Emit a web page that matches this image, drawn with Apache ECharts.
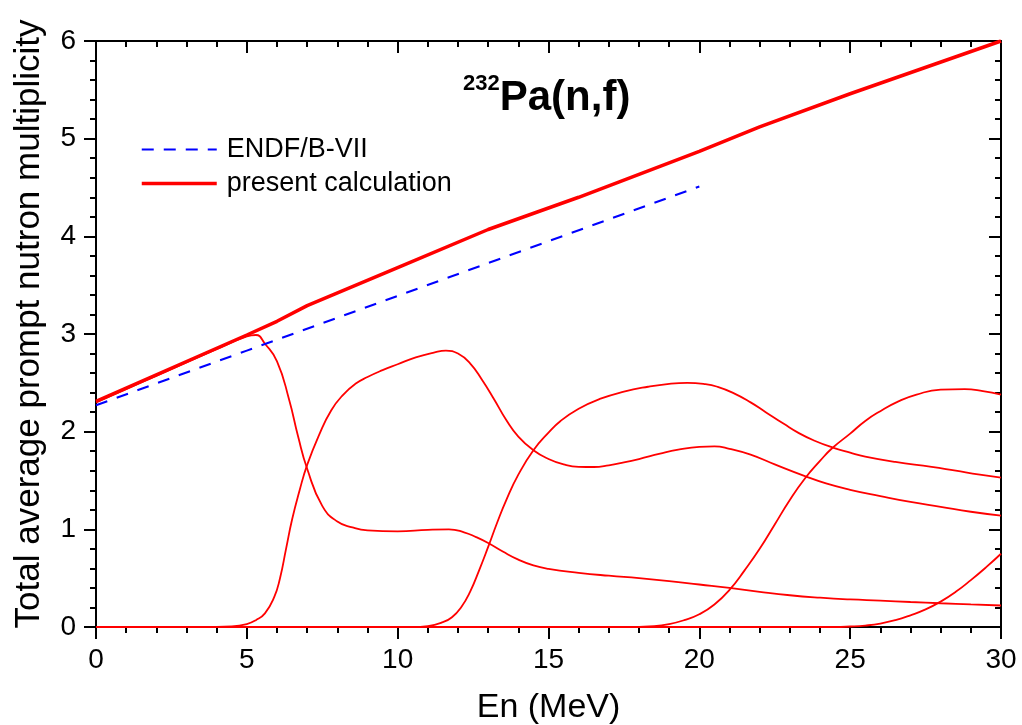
<!DOCTYPE html>
<html>
<head>
<meta charset="utf-8">
<script src="https://cdn.jsdelivr.net/npm/echarts@6/dist/echarts.min.js"></script>
<style>html,body{margin:0;padding:0;background:#fff}#c{width:1022px;height:725px}</style>
</head>
<body>
<div id="c"></div>
<script>
// ---- data ----
var xTicks = [0, 5, 10, 15, 20, 25, 30];
var yTicks = [0, 1, 2, 3, 4, 5, 6];
var endf = [[0,2.27],[5,2.83],[10,3.39],[15,3.95],[20,4.51]];
var total = [[0,2.31],[5,2.99],[6,3.13],[7,3.29],[10,3.68],[13,4.07],[16,4.40],[20,4.87],[22,5.12],[25,5.46],[30,6.0]];
var chance1 = [[0,2.30],[1,2.436],[2,2.572],[3,2.708],[4,2.844],[5,2.975],[5.3,2.99],[5.6,2.9],[6,2.72],[6.4,2.33],[6.7,1.95],[7,1.62],[7.5,1.24],[8,1.08],[8.5,1.02],[9,0.99],[10,0.98],[11,0.995],[11.7,1.0],[12.2,0.97],[12.6,0.92],[13,0.86],[13.5,0.77],[14,0.69],[14.5,0.63],[15,0.595],[16,0.555],[17,0.525],[18,0.5],[19,0.47],[20,0.435],[21,0.4],[22,0.36],[23,0.325],[24,0.3],[25,0.282],[26,0.27],[27,0.256],[28,0.243],[29,0.231],[30,0.22]];
var chance2 = [[0,0],[2,0],[4,0],[4.5,0.005],[5,0.03],[5.3,0.07],[5.6,0.14],[5.9,0.3],[6.1,0.5],[6.3,0.8],[6.5,1.1],[6.75,1.4],[7,1.66],[7.4,1.97],[7.8,2.22],[8.2,2.38],[8.6,2.49],[9,2.56],[9.5,2.63],[10,2.69],[10.6,2.76],[11.2,2.81],[11.6,2.83],[12,2.8],[12.4,2.7],[12.8,2.53],[13.2,2.33],[13.6,2.12],[14,1.95],[14.5,1.81],[15,1.72],[15.5,1.665],[16,1.64],[16.5,1.638],[17,1.655],[17.5,1.685],[18,1.72],[18.7,1.775],[19.3,1.815],[20,1.845],[20.5,1.85],[21,1.825],[21.7,1.765],[22.5,1.665],[23.5,1.545],[24.2,1.47],[25,1.405],[26,1.34],[27,1.28],[28,1.23],[29,1.18],[30,1.14]];
var chance3 = [[0,0],[5,0],[10,0],[10.5,0],[11,0.01],[11.5,0.05],[11.8,0.1],[12.1,0.2],[12.4,0.36],[12.7,0.58],[13,0.82],[13.3,1.07],[13.6,1.3],[14,1.56],[14.5,1.81],[15,1.99],[15.4,2.11],[16,2.235],[16.7,2.335],[17.5,2.41],[18.3,2.46],[19,2.49],[19.6,2.5],[20.2,2.487],[20.6,2.46],[21.1,2.4],[21.7,2.3],[22.2,2.2],[22.8,2.08],[23.3,1.985],[23.8,1.91],[24.4,1.84],[25,1.785],[25.5,1.745],[26.5,1.69],[27.7,1.64],[28.5,1.6],[29.3,1.56],[30,1.53]];
var chance4 = [[0,0],[8,0],[16,0],[17.5,0],[18.5,0.01],[19,0.03],[19.5,0.07],[20,0.13],[20.5,0.23],[21,0.38],[21.5,0.58],[22,0.8],[22.5,1.05],[23,1.3],[23.5,1.52],[24,1.7],[24.4,1.83],[25,1.98],[25.5,2.11],[26,2.21],[26.6,2.31],[27.2,2.38],[28,2.43],[28.8,2.435],[29.4,2.415],[30,2.38]];
var chance5 = [[0,0],[10,0],[20,0],[23,0],[24.5,0],[25,0.005],[25.5,0.015],[26,0.035],[26.5,0.07],[27,0.12],[27.5,0.18],[28,0.26],[28.5,0.36],[29,0.48],[29.5,0.61],[30,0.75]];

var FONT = '"Liberation Sans", Arial, sans-serif';
var chart = echarts.init(document.getElementById('c'), null, {renderer: 'canvas'});

function thin(name, data) {
  return {name: name, type: 'line', data: data, symbol: 'none', smooth: 0.5,
    xAxisIndex: 0, yAxisIndex: 0,
    lineStyle: {color: '#ff0000', width: 1.8}, itemStyle: {color: '#ff0000'}, z: 2, silent: true};
}

var axisLineStyle = {show: true, onZero: false, lineStyle: {color: '#000', width: 2}};
var noLine = {show: false, onZero: false};
function tick(inside, len) { return {show: true, inside: inside, length: len, lineStyle: {color: '#000', width: 2}}; }

chart.setOption({
  animation: false,
  backgroundColor: '#fff',
  title: {
    text: '{s|232}{m|Pa(n,f)}',
    left: 458, top: 68,
    textStyle: {
      rich: {
        s: {fontFamily: FONT, fontWeight: 'bold', fontSize: 22, color: '#000', verticalAlign: 'top', lineHeight: 40},
        m: {fontFamily: FONT, fontWeight: 'bold', fontSize: 42, color: '#000', lineHeight: 46, verticalAlign: 'bottom'}
      }
    }
  },
  legend: {
    data: [
      {name: 'ENDF/B-VII'},
      {name: 'present calculation', lineStyle: {width: 3.5}}
    ],
    orient: 'vertical', left: 140, top: 136, padding: 0,
    itemWidth: 75, itemHeight: 28, itemGap: 7,
    itemStyle: {color: 'rgba(0,0,0,0)', borderWidth: 0, opacity: 0},
    textStyle: {fontFamily: FONT, fontSize: 27, color: '#000', padding: [0, 0, 0, 5]},
    selectedMode: false
  },
  grid: {left: 96, right: 21, top: 41, bottom: 98, containLabel: false, outerBoundsMode: 'none'},
  xAxis: [{
    type: 'value', min: 0, max: 30, interval: 5, position: 'bottom',
    name: 'En (MeV)', nameLocation: 'middle', nameGap: 64,
    nameTextStyle: {fontFamily: FONT, fontSize: 34, color: '#000'},
    axisLine: axisLineStyle, axisTick: tick(false, 12),
    axisLabel: {fontFamily: FONT, fontSize: 28, color: '#000', margin: 19,
      formatter: function (v) { return xTicks.indexOf(v) >= 0 ? String(v) : ''; }},
    splitLine: {show: false}
  }, {
    type: 'value', min: 0, max: 30, interval: 5, position: 'top',
    axisLine: axisLineStyle, axisTick: tick(true, 12),
    axisLabel: {show: false}, splitLine: {show: false}
  }, {
    type: 'value', min: 0, max: 30, interval: 1, position: 'bottom',
    axisLine: noLine, axisTick: tick(false, 6),
    axisLabel: {show: false}, splitLine: {show: false}
  }, {
    type: 'value', min: 0, max: 30, interval: 1, position: 'top',
    axisLine: noLine, axisTick: tick(true, 6),
    axisLabel: {show: false}, splitLine: {show: false}
  }],
  yAxis: [{
    type: 'value', min: 0, max: 6, interval: 1, position: 'left',
    name: 'Total average prompt nutron multiplicity', nameLocation: 'middle', nameGap: 49,
    nameTextStyle: {fontFamily: FONT, fontSize: 35, color: '#000', padding: [0, 0, 0, 20]},
    axisLine: axisLineStyle, axisTick: tick(false, 12),
    axisLabel: {fontFamily: FONT, fontSize: 28, color: '#000', margin: 20,
      formatter: function (v) { return yTicks.indexOf(v) >= 0 ? String(v) : ''; }},
    splitLine: {show: false}
  }, {
    type: 'value', min: 0, max: 6, interval: 1, position: 'right',
    axisLine: axisLineStyle, axisTick: tick(true, 12),
    axisLabel: {show: false}, splitLine: {show: false}
  }, {
    type: 'value', min: 0, max: 6, interval: 0.2, position: 'left',
    axisLine: noLine, axisTick: tick(false, 6),
    axisLabel: {show: false}, splitLine: {show: false}
  }, {
    type: 'value', min: 0, max: 6, interval: 0.2, position: 'right',
    axisLine: noLine, axisTick: tick(true, 6),
    axisLabel: {show: false}, splitLine: {show: false}
  }],
  series: [
    thin('c1', chance1), thin('c2', chance2), thin('c3', chance3), thin('c4', chance4), thin('c5', chance5),
    {name: 'ENDF/B-VII', type: 'line', data: endf, symbol: 'none', z: 3, xAxisIndex: 0, yAxisIndex: 0,
      lineStyle: {color: '#0000ff', width: 2, type: [12, 10]}, itemStyle: {color: '#0000ff'}},
    {name: 'present calculation', type: 'line', data: total, symbol: 'none', z: 4, xAxisIndex: 0, yAxisIndex: 0,
      lineStyle: {color: '#ff0000', width: 3.5}, itemStyle: {color: '#ff0000'}}
  ]
});
</script>
</body>
</html>
